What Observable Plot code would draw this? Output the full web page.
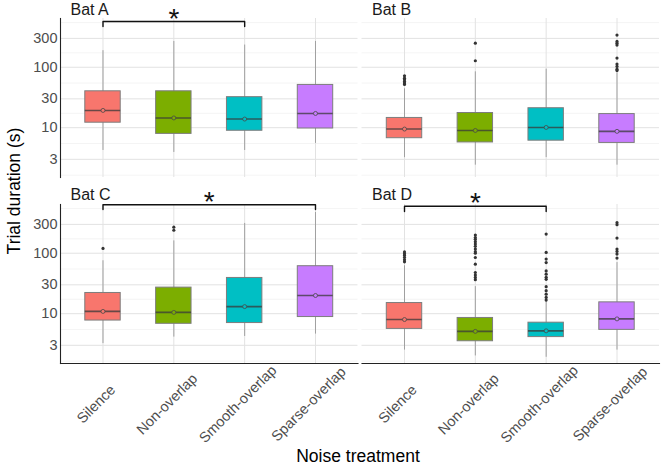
<!DOCTYPE html>
<html><head><meta charset="utf-8">
<script src="https://cdn.jsdelivr.net/npm/d3@7"></script>
<script src="https://cdn.jsdelivr.net/npm/@observablehq/plot@0.6"></script>
<style>body{margin:0;background:#fff;font-family:"Liberation Sans",Arial,sans-serif}</style>
</head><body><div id="chart"></div>
<script>
// ---- data ----
const bats = ["Bat A", "Bat B", "Bat C", "Bat D"];
const treatments = ["Silence", "Non-overlap", "Smooth-overlap", "Sparse-overlap"];
const colors = ["#F8766D", "#7CAE00", "#00BFC4", "#C77CFF"];
// rows = bats, columns = treatments
const whiskerLow = [
  [4.2, 3.9, 4.2, 5.5],
  [3.2, 2.4, 3.2, 2.4],
  [3.2, 4.1, 4.2, 4.6],
  [2.5, 2.0, 1.9, 2.5]
];
const q1 = [
  [12.1, 7.9, 8.9, 9.7],
  [6.7, 5.7, 6.1, 5.6],
  [7.7, 6.8, 7.0, 8.8],
  [5.6, 3.5, 4.1, 5.4]
];
const median = [
  [19.3, 14.5, 13.9, 17.2],
  [9.5, 9.0, 10.1, 8.7],
  [10.9, 10.5, 13.1, 20],
  [8.0, 5.1, 5.2, 8.2]
];
const q3 = [
  [40, 40, 32, 51],
  [14.5, 17.5, 21, 16.8],
  [22, 27, 39, 61],
  [15, 8.5, 7.1, 15.4]
];
const whiskerHigh = [
  [188, 267, 233, 267],
  [44, 84, 93, 80],
  [75, 160, 311, 472],
  [62, 28, 16, 70]
];
const outliers = [
  [[], [], [], []],
  [[52, 55, 58, 62, 66, 72], [128, 250], [], [341, 267, 250, 233, 142, 113, 103, 93, 88]],
  [[120], [240, 270], [], []],
  [[72, 78, 85, 92, 98, 105],
   [36.5, 39.8, 43.6, 48, 66, 85, 100, 106, 117, 130, 142, 155, 170, 182, 200],
   [16.8, 18.6, 21, 24, 28, 37, 40, 45, 51, 70, 80, 103, 207],
   [83, 97, 107, 117, 178, 296, 320]]
];
// significance brackets
const bracketBat = ["Bat A", "Bat C", "Bat D"];
const bracketFrom = ["Silence", "Silence", "Silence"];
const bracketTo = ["Smooth-overlap", "Sparse-overlap", "Smooth-overlap"];
const bracketTop = [570, 635, 600];
const bracketEnd = [470, 530, 490];
const bracketLabel = ["*", "*", "*"];
// axis
const yTicks = [3, 10, 30, 100, 300];
const yMinor = [1.64, 5.48, 17.3, 54.8, 173, 548];

// ---- derived tables ----
const col = b => (b === "Bat A" || b === "Bat C") ? "L" : "R";
const row = b => (b === "Bat A" || b === "Bat B") ? "T" : "B";

const boxes = bats.flatMap((b, i) => treatments.map((t, j) => ({
  fx: col(b), fy: row(b), t,
  lo: whiskerLow[i][j], q1: q1[i][j], med: median[i][j], q3: q3[i][j], hi: whiskerHigh[i][j]
})));
const outs = bats.flatMap((b, i) => treatments.flatMap((t, j) =>
  outliers[i][j].map(v => ({fx: col(b), fy: row(b), t, v}))));
const bracketPts = bracketBat.flatMap((b, k) => [
  {id: k, fx: col(b), fy: row(b), x: bracketFrom[k], y: bracketEnd[k]},
  {id: k, fx: col(b), fy: row(b), x: bracketFrom[k], y: bracketTop[k]},
  {id: k, fx: col(b), fy: row(b), x: bracketTo[k], y: bracketTop[k]},
  {id: k, fx: col(b), fy: row(b), x: bracketTo[k], y: bracketEnd[k]}
]);
const stars = bracketBat.map((b, k) => ({
  fx: col(b), fy: row(b),
  mid: (treatments.indexOf(bracketFrom[k]) + treatments.indexOf(bracketTo[k])) / 2,
  y: bracketTop[k], label: bracketLabel[k]
}));
// star over a category centre, or over the panel centre when between two categories
const starsOnCat = stars.filter(s => Number.isInteger(s.mid)).map(s => ({...s, x: treatments[s.mid]}));
const starsCentered = stars.filter(s => !Number.isInteger(s.mid));
const strips = bats.map(b => ({fx: col(b), fy: row(b), label: b}));
const yTickRows = ["T", "B"].flatMap(r => yTicks.map(v => ({fx: "L", fy: r, v})));
const xTickRows = ["L", "R"].flatMap(c => treatments.map(t => ({fx: c, fy: "B", t})));

const font = "Liberation Sans, Arial, sans-serif";

const chart = Plot.plot({
  width: 662,
  height: 464,
  marginLeft: 60,
  marginRight: 3,
  marginTop: 18,
  marginBottom: 101,
  style: {fontFamily: font, background: "#fff"},
  fx: {domain: ["L", "R"], paddingInner: 0.0133, paddingOuter: 0, axis: null, round: false},
  fy: {domain: ["T", "B"], paddingInner: 0.145, paddingOuter: 0, axis: null, round: false},
  x: {type: "band", domain: treatments, paddingInner: 0.5, paddingOuter: 0.35, axis: null, round: false},
  y: {type: "log", domain: [1.5, 640], axis: null},
  color: {domain: treatments, range: colors},
  marks: [
    Plot.ruleY(yMinor, {stroke: "#ececec", strokeWidth: 0.6}),
    Plot.ruleY(yTicks, {stroke: "#e2e2e2", strokeWidth: 1}),
    Plot.ruleX(treatments, {x: d => d, stroke: "#e2e2e2", strokeWidth: 1}),
    Plot.frame({anchor: "left", facetAnchor: "left", stroke: "#222", strokeWidth: 1.1}),
    Plot.frame({anchor: "bottom", facetAnchor: "bottom", stroke: "#222", strokeWidth: 1.1}),
    // whiskers
    Plot.ruleX(boxes, {fx: "fx", fy: "fy", x: "t", y1: "lo", y2: "hi", stroke: "#999", strokeWidth: 0.9}),
    // boxes
    Plot.barY(boxes, {fx: "fx", fy: "fy", x: "t", y1: "q1", y2: "q3", fill: "t", stroke: "#7d7d7d", strokeWidth: 1}),
    // medians
    Plot.tickY(boxes, {fx: "fx", fy: "fy", x: "t", y: "med", stroke: "#3a3a3a", strokeOpacity: 0.75, strokeWidth: 1.6}),
    Plot.dot(boxes, {fx: "fx", fy: "fy", x: "t", y: "med", r: 2, fill: "t", stroke: "#4a4a4a", strokeWidth: 0.8}),
    // outliers
    Plot.dot(outs, {fx: "fx", fy: "fy", x: "t", y: "v", r: 1.6, fill: "#333", stroke: null}),
    // brackets
    Plot.line(bracketPts, {fx: "fx", fy: "fy", x: "x", y: "y", z: "id", stroke: "#111", strokeWidth: 1.4}),
    Plot.text(starsOnCat, {fx: "fx", fy: "fy", x: "x", y: "y", text: "label", fontSize: 28, dy: -3,
      lineAnchor: "middle", fill: "#111"}),
    Plot.text(starsCentered, {fx: "fx", fy: "fy", frameAnchor: "top", y: "y", text: "label", fontSize: 28, dy: -3,
      lineAnchor: "middle", fill: "#111"}),
    // strip labels
    Plot.text(strips, {fx: "fx", fy: "fy", frameAnchor: "top-left", text: "label", textAnchor: "start",
      lineAnchor: "bottom", dx: 10, dy: -4, fontSize: 16, fill: "#1a1a1a"}),
    // y tick labels
    Plot.text(yTickRows, {fx: "fx", fy: "fy", y: "v", frameAnchor: "left", text: d => String(d.v),
      textAnchor: "end", dx: -3, fontSize: 14.5, fill: "#4d4d4d"}),
    // x tick labels
    Plot.text(xTickRows, {fx: "fx", fy: "fy", x: "t", frameAnchor: "bottom", text: "t", rotate: -45,
      textAnchor: "middle", dx: -3.5, dy: 44, fontSize: 14.5, fill: "#4d4d4d"}),
    // axis titles
    Plot.text([{fx: "L", fy: "T"}], {fx: "fx", fy: "fy", frameAnchor: "bottom-left", text: () => "Trial duration (s)",
      rotate: -90, textAnchor: "middle", lineAnchor: "middle", dx: -46.5, dy: 13.5, fontSize: 17.5, fill: "#000"}),
    Plot.text([{fx: "L", fy: "B"}], {fx: "fx", fy: "fy", frameAnchor: "bottom-right", text: () => "Noise treatment",
      textAnchor: "middle", lineAnchor: "bottom", dx: 0, dy: 98, fontSize: 17.5, fill: "#000"})
  ]
});
document.getElementById("chart").appendChild(chart);
</script>
</body></html>
